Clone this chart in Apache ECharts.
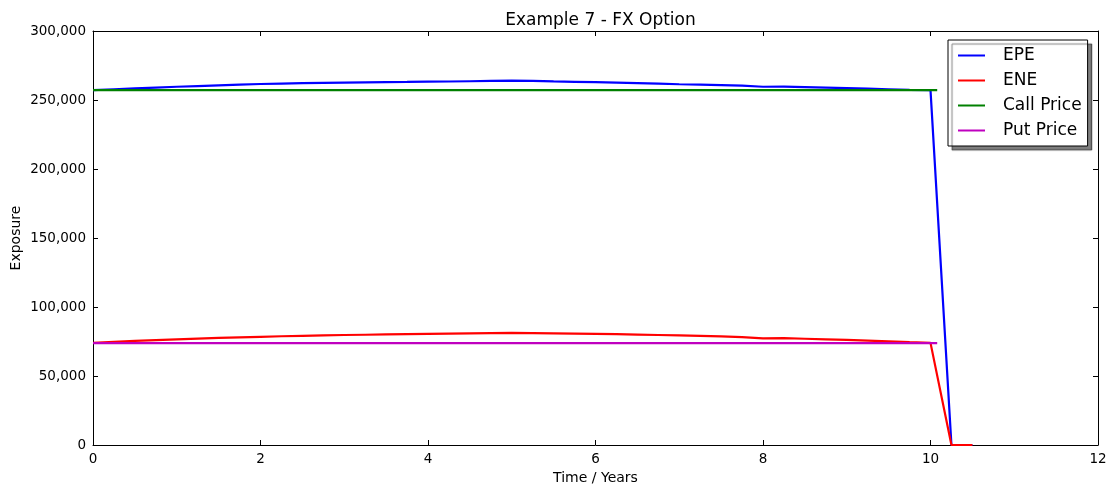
<!DOCTYPE html>
<html>
<head>
<meta charset="utf-8">
<script src="https://cdn.jsdelivr.net/npm/echarts@6/dist/echarts.min.js"></script>
<style>
  html, body { margin: 0; padding: 0; background: #fff; }
  #chart { width: 1111px; height: 487px; }
</style>
</head>
<body>
<div id="chart"></div>
<script>
// Simulation time grid (years)
const times = [0, 0.25, 0.5, 0.75, 1, 1.25, 1.5, 1.75, 2, 2.25, 2.5, 2.75, 3, 3.25, 3.5, 3.75,
  4, 4.25, 4.5, 4.75, 5, 5.25, 5.5, 5.75, 6, 6.25, 6.5, 6.75, 7, 7.25, 7.5, 7.75,
  8, 8.25, 8.5, 8.75, 9, 9.25, 9.5, 9.75, 10, 10.25, 10.5];

// Expected positive exposure
const epe = [257200, 257800, 258400, 259000, 259600, 260100, 260600, 261100, 261600, 261900,
  262200, 262400, 262600, 262800, 263000, 263100, 263300, 263400, 263600, 263800,
  264000, 263900, 263500, 263200, 262900, 262600, 262200, 261800, 261400, 261100,
  260800, 260400, 259600, 259700, 259400, 259000, 258600, 258200, 257800, 257400,
  257200, 0, 0];

// Expected negative exposure
const ene = [74000, 74700, 75400, 76000, 76600, 77100, 77600, 78000, 78400, 78800,
  79100, 79400, 79700, 79900, 80100, 80300, 80500, 80700, 80900, 81100,
  81300, 81100, 80900, 80700, 80500, 80300, 80000, 79700, 79400, 79100,
  78700, 78200, 77300, 77400, 77000, 76600, 76200, 75700, 75100, 74500,
  74000, 0, 0];

// Analytic option prices, flat up to expiry
const priceTimes = [0, 10.08];
const callPrice = [257200, 257200];
const putPrice = [73800, 73800];

const seriesNames = ['EPE', 'ENE', 'Call Price', 'Put Price'];
const seriesColors = ['#0000ff', '#ff0000', '#008000', '#bf00bf'];

const pair = (xs, ys) => xs.map((x, i) => [x, ys[i]]);
const font = 'DejaVu Sans, sans-serif';

function lineSeries(idx, data) {
  return {
    name: seriesNames[idx],
    type: 'line',
    data: data,
    symbol: 'none',
    animation: false,
    lineStyle: { color: seriesColors[idx], width: 2.2 },
    itemStyle: { color: seriesColors[idx] }
  };
}

const tickStyle = { show: true, inside: true, length: 5, lineStyle: { color: '#000', width: 1 } };
const axisLineStyle = { show: true, onZero: false, lineStyle: { color: '#000', width: 1 } };

const chart = echarts.init(document.getElementById('chart'), null, { renderer: 'canvas' });
chart.setOption({
  backgroundColor: '#fff',
  animation: false,
  title: {
    text: 'Example 7 - FX Option',
    left: 595.5,
    textAlign: 'center',
    top: 7,
    textStyle: { fontFamily: font, fontSize: 17, fontWeight: 'normal', color: '#000' }
  },
  grid: { left: 93, right: 13, top: 31, bottom: 42, containLabel: false, outerBoundsMode: 'none' },
  legend: {
    orient: 'vertical',
    left: 948,
    top: 40,
    data: seriesNames,
    icon: 'rect',
    itemWidth: 27,
    itemHeight: 2,
    itemGap: 8,
    padding: [7, 6, 7, 10],
    backgroundColor: '#fff',
    borderColor: '#000',
    borderWidth: 1,
    borderRadius: 0,
    shadowColor: 'rgba(0,0,0,0.5)',
    shadowBlur: 1,
    shadowOffsetX: 4,
    shadowOffsetY: 4,
    textStyle: { fontFamily: font, fontSize: 17, color: '#000', padding: [0, 0, 0, 13], lineHeight: 17 }
  },
  xAxis: [
    {
      type: 'value', min: 0, max: 12, interval: 2,
      name: 'Time / Years', nameLocation: 'middle', nameGap: 26, nameMoveOverlap: false,
      nameTextStyle: { fontFamily: font, fontSize: 14, color: '#000' },
      axisLine: axisLineStyle, axisTick: tickStyle,
      axisLabel: { fontFamily: font, fontSize: 13.5, color: '#000', margin: 7 },
      splitLine: { show: false }
    },
    {
      type: 'value', min: 0, max: 12, interval: 2, position: 'top',
      axisLine: axisLineStyle, axisTick: tickStyle,
      axisLabel: { show: false }, splitLine: { show: false }
    }
  ],
  yAxis: [
    {
      type: 'value', min: 0, max: 300000, interval: 50000,
      name: 'Exposure', nameLocation: 'middle', nameGap: 70, nameRotate: 90, nameMoveOverlap: false,
      nameTextStyle: { fontFamily: font, fontSize: 14, color: '#000' },
      axisLine: axisLineStyle, axisTick: tickStyle,
      axisLabel: {
        fontFamily: font, fontSize: 13.5, color: '#000', margin: 7,
        formatter: v => v.toLocaleString('en-US')
      },
      splitLine: { show: false }
    },
    {
      type: 'value', min: 0, max: 300000, interval: 50000, position: 'right',
      axisLine: axisLineStyle, axisTick: tickStyle,
      axisLabel: { show: false }, splitLine: { show: false }
    }
  ],
  series: [
    lineSeries(0, pair(times, epe)),
    lineSeries(1, pair(times, ene)),
    lineSeries(2, pair(priceTimes, callPrice)),
    lineSeries(3, pair(priceTimes, putPrice))
  ]
});
</script>
</body>
</html>
